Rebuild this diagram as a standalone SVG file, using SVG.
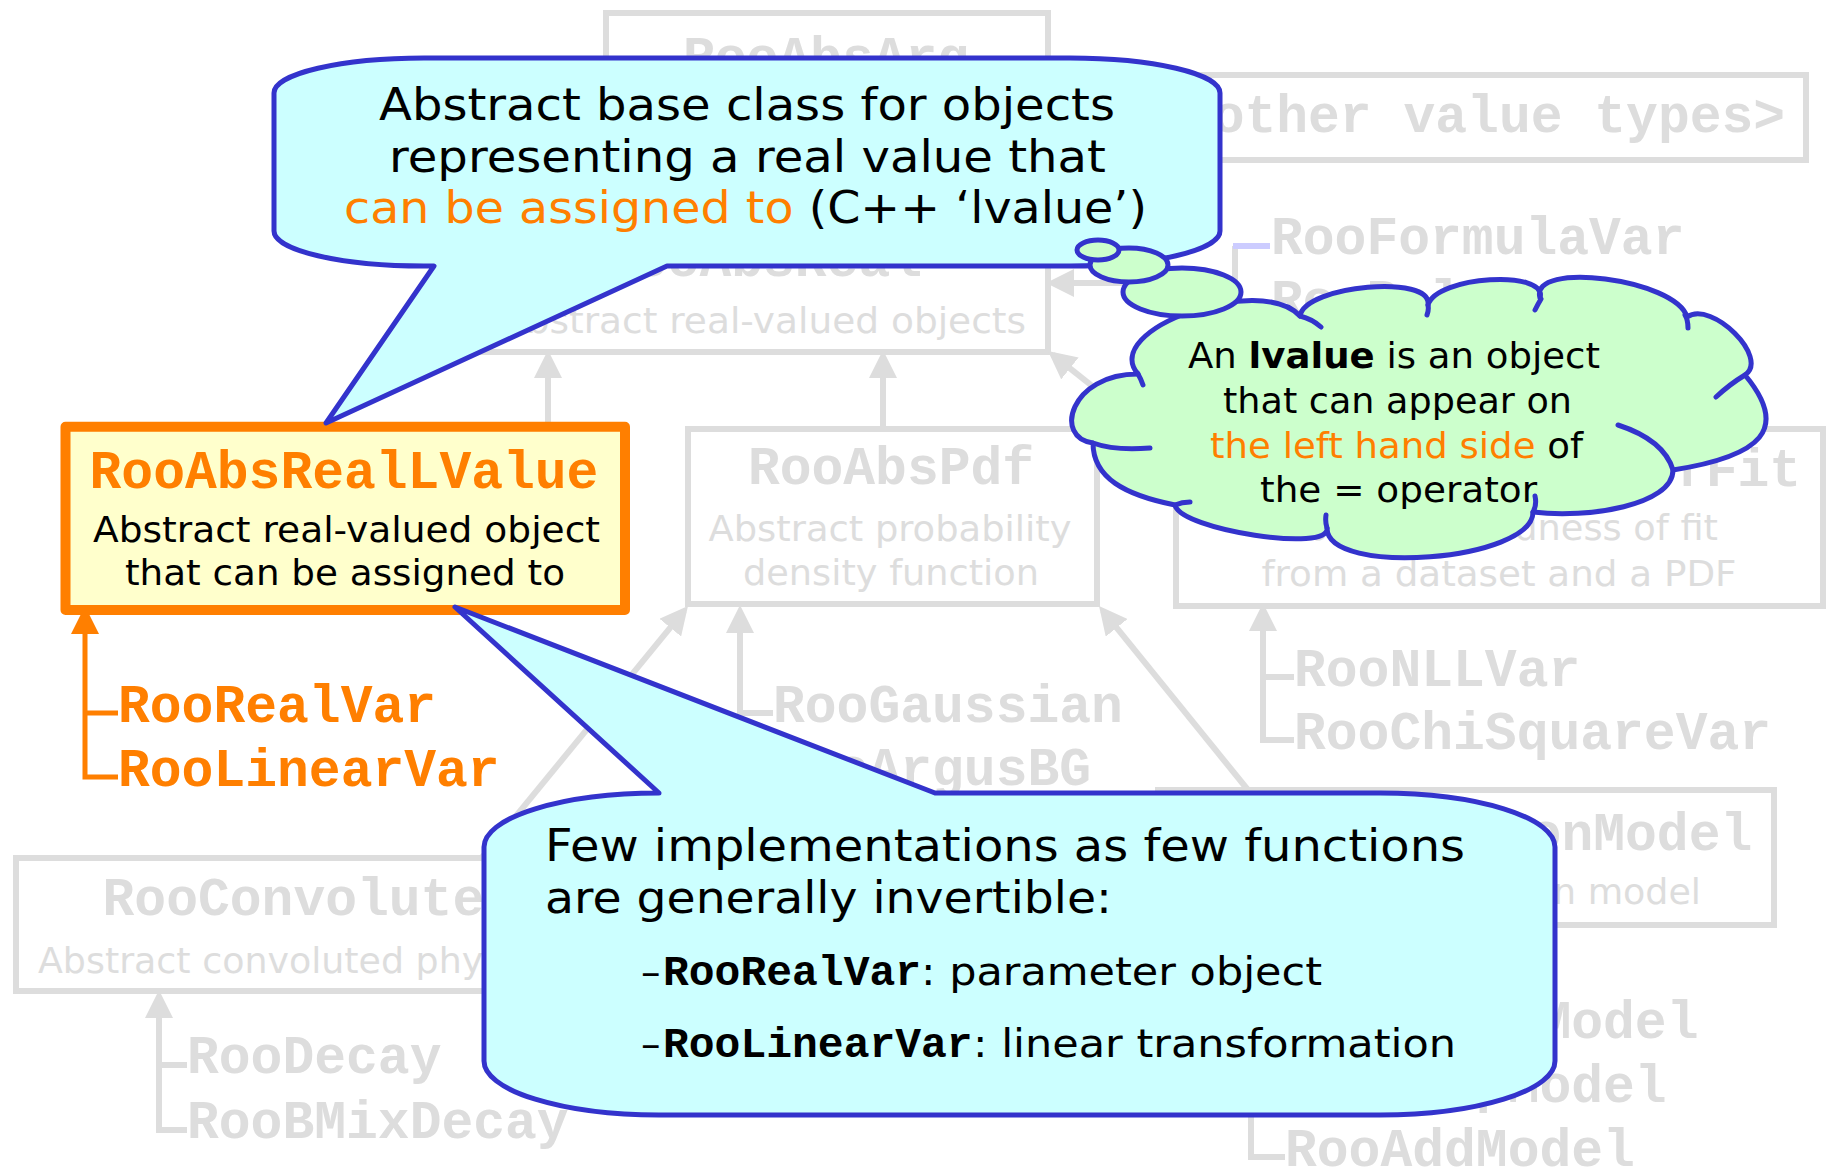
<svg xmlns="http://www.w3.org/2000/svg" width="1829" height="1176" viewBox="0 0 1829 1176">
<style>
.gbox{fill:none;stroke:#dddddd;stroke-width:6}
.gline{fill:none;stroke:#dddddd;stroke-width:6}
.oline{fill:none;stroke:#ff7f00;stroke-width:5}
.gm{font-family:"Liberation Mono","Courier New",monospace;font-weight:bold;font-size:53px;fill:#dddddd}
.gs{font-family:"DejaVu Sans",sans-serif;font-size:35px;fill:#dddddd}
.om{font-family:"Liberation Mono","Courier New",monospace;font-weight:bold;font-size:53px;fill:#ff7f00}
.s{font-family:"DejaVu Sans",sans-serif;fill:#000000}
.bm{font-family:"Liberation Mono","Courier New",monospace;font-weight:bold;font-size:43px;fill:#000000}
.org{fill:#ff7f00}
.callout{fill:#ccffff;stroke:#3333cc;stroke-width:5;stroke-linejoin:round}
.cloud{fill:#ccffcc;stroke:#3333cc;stroke-width:5;stroke-linejoin:round}
.tick{fill:none;stroke:#3333cc;stroke-width:5;stroke-linecap:round}
</style>
<defs>
<marker id="ga" viewBox="0 0 28 28" refX="22" refY="14" markerWidth="28" markerHeight="28" markerUnits="userSpaceOnUse" orient="auto-start-reverse"><path d="M0,0 L28,14 L0,28 Z" fill="#dddddd"/></marker>
<marker id="oa" viewBox="0 0 28 28" refX="22" refY="14" markerWidth="28" markerHeight="28" markerUnits="userSpaceOnUse" orient="auto-start-reverse"><path d="M0,0 L28,14 L0,28 Z" fill="#ff7f00"/></marker>
</defs>

<g id="node-RooAbsArg">
<rect class="gbox" x="606" y="13" width="442" height="100"/>
<text class="gm" x="826" y="74" text-anchor="middle">RooAbsArg</text>
</g>
<g id="node-other">
<rect class="gbox" x="1163" y="75" width="643" height="85"/>
<text class="gm" x="1483" y="132" text-anchor="middle">&lt;other value types&gt;</text>
</g>
<g id="node-RooAbsReal">
<rect class="gbox" x="478" y="220" width="570" height="132"/>
<text class="gm" x="763" y="276" text-anchor="middle">RooAbsReal</text>
<text class="gs" x="763" y="333" text-anchor="middle" textLength="526" lengthAdjust="spacingAndGlyphs">Abstract real-valued objects</text>
</g>
<g id="node-RooFormulaVar"><text class="gm" x="1271" y="254">RooFormulaVar</text></g>
<g id="node-RooPolyVar"><text class="gm" x="1271" y="317">RooPolyVar</text></g>
<g id="node-RooAbsPdf">
<rect class="gbox" x="688" y="429" width="409" height="175"/>
<text class="gm" x="891" y="484" text-anchor="middle">RooAbsPdf</text>
<text class="gs" x="890" y="541" text-anchor="middle" textLength="363" lengthAdjust="spacingAndGlyphs">Abstract probability</text>
<text class="gs" x="891" y="585" text-anchor="middle" textLength="296" lengthAdjust="spacingAndGlyphs">density function</text>
</g>
<g id="node-RooAbsGoodnessOfFit">
<rect class="gbox" x="1176" y="429" width="647" height="177"/>
<text class="gm" x="1499" y="486" text-anchor="middle">RooAbsGoodnessOfFit</text>
<text class="gs" x="1499" y="540" text-anchor="middle" textLength="438" lengthAdjust="spacingAndGlyphs">Abstract goodness of fit</text>
<text class="gs" x="1499" y="586" text-anchor="middle" textLength="475" lengthAdjust="spacingAndGlyphs">from a dataset and a PDF</text>
</g>
<g id="node-RooNLLVar"><text class="gm" x="1294" y="686">RooNLLVar</text></g>
<g id="node-RooChiSquareVar"><text class="gm" x="1294" y="749">RooChiSquareVar</text></g>
<g id="node-RooGaussian"><text class="gm" x="773" y="722">RooGaussian</text></g>
<g id="node-RooArgusBG"><text class="gm" x="773" y="785">RooArgusBG</text></g>
<g id="node-RooConvolutedPdf">
<rect class="gbox" x="16" y="858" width="682" height="133"/>
<text class="gm" x="357" y="915" text-anchor="middle">RooConvolutedPdf</text>
<text class="gs" x="357" y="973" text-anchor="middle" textLength="638" lengthAdjust="spacingAndGlyphs">Abstract convoluted physics model</text>
</g>
<g id="node-RooDecay"><text class="gm" x="187" y="1073">RooDecay</text></g>
<g id="node-RooBMixDecay"><text class="gm" x="187" y="1138">RooBMixDecay</text></g>
<g id="node-RooResolutionModel">
<rect class="gbox" x="1158" y="790" width="616" height="135"/>
<text class="gm" x="1466" y="850" text-anchor="middle">RooResolutionModel</text>
<text class="gs" x="1466" y="904" text-anchor="middle" textLength="470" lengthAdjust="spacingAndGlyphs">Abstract resolution model</text>
</g>
<g id="node-RooGaussModel"><text class="gm" x="1285" y="1038">RooGaussModel</text></g>
<g id="node-RooGExpModel"><text class="gm" x="1285" y="1102">RooGExpModel</text></g>
<g id="node-RooAddModel"><text class="gm" x="1285" y="1166">RooAddModel</text></g>

<g id="connectors">
<path class="gline" marker-start="url(#ga)" d="M548,356 V424"/>
<path class="gline" marker-start="url(#ga)" d="M883,356 V429"/>
<path class="gline" marker-start="url(#ga)" d="M1052.7,354.7 L1145,428"/>
<path class="gline" marker-start="url(#ga)" d="M1052,283 H1235"/>
<path class="gline" d="M1235,246 V309 H1271"/>
<path fill="none" stroke="#ccccff" stroke-width="6" d="M1233,246 H1270"/>
<path class="gline" marker-start="url(#ga)" d="M740,611 V776 H773 M740,713 H773"/>
<path class="gline" marker-start="url(#ga)" d="M1263,609 V740 H1294 M1263,677 H1294"/>
<path class="gline" marker-start="url(#ga)" d="M159,996 V1130 H187 M159,1065 H187"/>
<path class="gline" marker-start="url(#ga)" d="M1251,931 V1157 H1285 M1251,1029 H1285 M1251,1093 H1285"/>
<path class="gline" marker-start="url(#ga)" d="M684.2,610.6 L480,860"/>
<path class="gline" marker-start="url(#ga)" d="M1102.8,610.7 L1248,790"/>
<path class="oline" marker-start="url(#oa)" d="M85,612 V777 H118 M85,713 H118"/>
</g>

<g id="node-RooAbsRealLValue">
<rect x="65.5" y="426.7" width="559.5" height="183.3" fill="#ffffcc" stroke="#ff7f00" stroke-width="10" stroke-linejoin="round"/>
<text class="om" x="344" y="488" text-anchor="middle">RooAbsRealLValue</text>
<text class="s" x="93" y="542" font-size="35" textLength="507" lengthAdjust="spacingAndGlyphs">Abstract real-valued object</text>
<text class="s" x="125" y="585" font-size="35" textLength="440" lengthAdjust="spacingAndGlyphs">that can be assigned to</text>
</g>
<g id="node-RooRealVar"><text class="om" x="118" y="722">RooRealVar</text></g>
<g id="node-RooLinearVar"><text class="om" x="118" y="786">RooLinearVar</text></g>

<g id="callout-top">
<path class="callout" d="M424,58 H1070 A150 35 0 0 1 1220,93 V231 A150 35 0 0 1 1070,266 H667 L326,423 L434,266 H424 A150 35 0 0 1 274,231 V93 A150 35 0 0 1 424,58 Z"/>
<text class="s" x="379" y="120" font-size="45" textLength="736" lengthAdjust="spacingAndGlyphs">Abstract base class for objects</text>
<text class="s" x="389" y="172" font-size="45" textLength="717" lengthAdjust="spacingAndGlyphs">representing a real value that</text>
<text class="s" x="344" y="223" font-size="45" textLength="803" lengthAdjust="spacingAndGlyphs"><tspan class="org">can be assigned to</tspan> (C++ ‘lvalue’)</text>
</g>

<g id="callout-bottom">
<path class="callout" d="M659,793 L455,607 L935,793 H1380 A175 54 0 0 1 1555,847 V1061 A175 54 0 0 1 1380,1115 H659 A175 54 0 0 1 484,1061 V847 A175 54 0 0 1 659,793 Z"/>
<text class="s" x="545" y="861" font-size="45" textLength="920" lengthAdjust="spacingAndGlyphs">Few implementations as few functions</text>
<text class="s" x="545" y="913" font-size="45" textLength="567" lengthAdjust="spacingAndGlyphs">are generally invertible:</text>
<text class="s" x="641" y="985" font-size="39">–</text>
<text class="bm" x="663" y="985">RooRealVar</text>
<text class="s" x="921" y="985" font-size="39" textLength="401" lengthAdjust="spacingAndGlyphs">: parameter object</text>
<text class="s" x="641" y="1057" font-size="39">–</text>
<text class="bm" x="663" y="1057">RooLinearVar</text>
<text class="s" x="973" y="1057" font-size="39" textLength="483" lengthAdjust="spacingAndGlyphs">: linear transformation</text>
</g>

<g id="cloud">
<path class="cloud" d="M1138,374 C1099,329 1261,273 1300,316 C1305,285 1433,274 1428,305 C1436,276 1548,269 1540,298 C1529,260 1676,279 1687,317 C1712,300 1770,358 1745,375 C1790,429 1762,456 1673,470 C1673,505 1588,519 1533,512 C1533,561 1327,577 1327,528 C1332,553 1180,530 1175,505 C1125,495 1093,478 1093,443 C1053,438 1070,374 1138,374 Z"/>
<path class="tick" d="M1138,374 Q1141,379 1143,385 M1300,316 Q1312,319 1321,327 M1428,305 Q1429,310 1427,315 M1541,299 Q1538,304 1535,310 M1685,315 Q1688,320 1688,328 M1745,375 Q1730,384 1716,397 M1618,425 Q1664,440 1673,470 M1533,512 Q1537,505 1535,496 M1327,528 Q1325,522 1326,515 M1175,505 Q1182,502 1190,502 M1093,443 Q1115,451 1150,448"/>
<ellipse class="cloud" cx="1182" cy="292" rx="59" ry="24"/>
<ellipse class="cloud" cx="1129" cy="265" rx="39" ry="17"/>
<ellipse class="cloud" cx="1098" cy="250" rx="21" ry="10"/>
<text class="s" x="1188" y="368" font-size="35" textLength="412" lengthAdjust="spacingAndGlyphs">An <tspan font-weight="bold">lvalue</tspan> is an object</text>
<text class="s" x="1223" y="413" font-size="35" textLength="349" lengthAdjust="spacingAndGlyphs">that can appear on</text>
<text class="s" x="1210" y="458" font-size="35" textLength="373" lengthAdjust="spacingAndGlyphs"><tspan class="org">the left hand side</tspan> of</text>
<text class="s" x="1260" y="502" font-size="35" textLength="277" lengthAdjust="spacingAndGlyphs">the = operator</text>
</g>
</svg>
